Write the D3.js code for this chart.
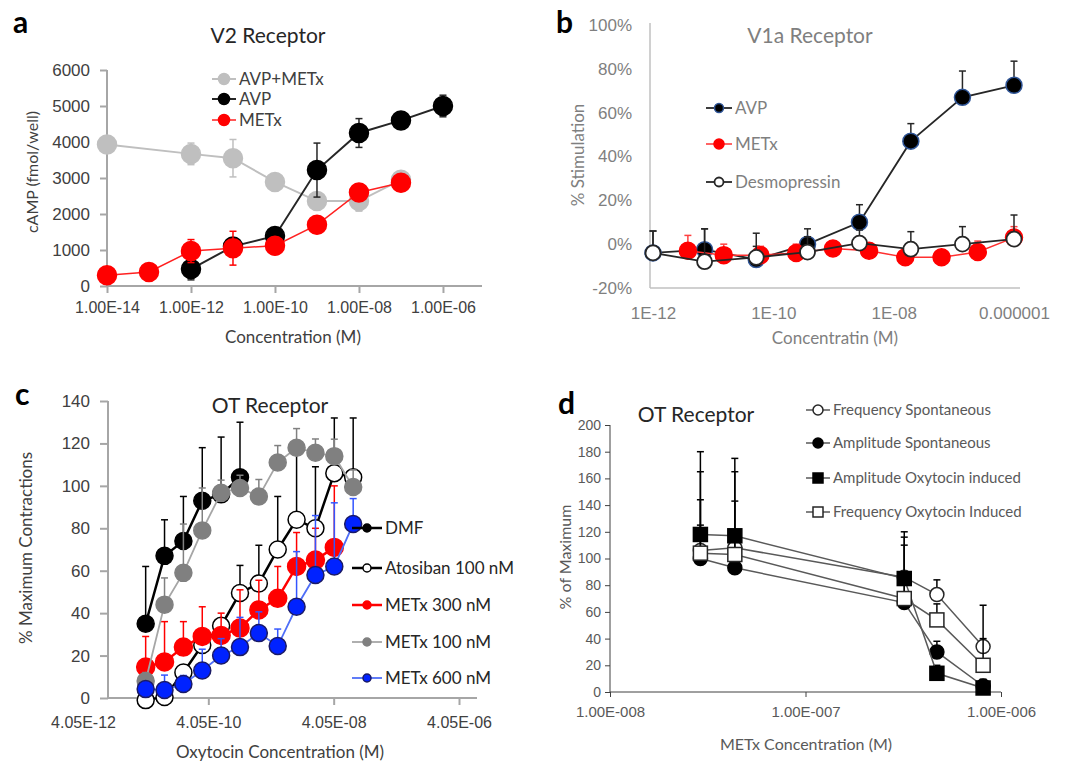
<!DOCTYPE html>
<html>
<head>
<meta charset="utf-8">
<script src="https://cdn.jsdelivr.net/npm/d3@7"></script>
<style>
body { margin: 0; background: #fff; }
svg { font-family: Lato, 'Open Sans', sans-serif; }
</style>
</head>
<body>
<svg id="chart" width="1069" height="761"></svg>
<script>
// ---- panel a : V2 receptor (cAMP)
var aAvpMetxConc = [1e-14, 1e-12, 1e-11, 1e-10, 1e-9, 1e-8, 1e-7];
var aAvpMetx     = [3930, 3670, 3550, 2890, 2360, 2360, 2950];
var aAvpMetxErr  = [0, 300, 520, 0, 0, 280, 150];
var aAvpConc = [1e-12, 1e-11, 1e-10, 1e-9, 1e-8, 1e-7, 1e-6];
var aAvp     = [470, 1100, 1390, 3220, 4250, 4600, 5000];
var aAvpErr  = [300, 0, 0, 750, 400, 0, 300];
var aMetxConc = [1e-14, 1e-13, 1e-12, 1e-11, 1e-10, 1e-9, 1e-8, 1e-7];
var aMetx     = [300, 390, 970, 1050, 1120, 1700, 2600, 2870];
var aMetxErr  = [0, 0, 320, 470, 0, 0, 200, 0];
var aYTicks = [0, 1000, 2000, 3000, 4000, 5000, 6000];
var aXTicks = [1e-14, 1e-12, 1e-10, 1e-8, 1e-6];
var aXLabels = ["1.00E-14", "1.00E-12", "1.00E-10", "1.00E-08", "1.00E-06"];

// ---- panel b : V1a receptor (% stimulation)
var bAvpConc = [1e-12, 7.2e-12, 5.2e-11, 3.7e-10, 2.7e-9, 1.93e-8, 1.39e-7, 1e-6];
var bAvp     = [-4, -2.5, -7, 0, 10, 47, 67, 72.5];
var bAvpErr  = [10, 9.5, 6, 7, 8, 8, 12, 11];
var bMetxConc = [3.8e-12, 1.5e-11, 6.1e-11, 2.4e-10, 9.8e-10, 3.9e-9, 1.56e-8, 6.25e-8, 2.5e-7, 1e-6];
var bMetx     = [-3, -5, -5, -4, -2, -3, -6, -6, -3.6, 3];
var bMetxErr  = [7, 5, 4, 4, 3, 3, 2, 3, 5, 5];
var bDesConc = [1e-12, 7.2e-12, 5.2e-11, 3.7e-10, 2.7e-9, 1.93e-8, 1.39e-7, 1e-6];
var bDes     = [-4, -8, -6, -3.6, 0.5, -2.3, 0, 2.3];
var bDesErr  = [10, 15, 11, 7, 6, 8, 8, 11];
var bYTicks = [-20, 0, 20, 40, 60, 80, 100];
var bXTicks = [1e-12, 1e-10, 1e-8, 1e-6];
var bXLabels = ["1E-12", "1E-10", "1E-08", "0.000001"];

// ---- panel c : OT receptor (% maximum contractions)
var cConc = [4.05e-11, 8.1e-11, 1.62e-10, 3.24e-10, 6.48e-10, 1.296e-9, 2.592e-9, 5.184e-9, 1.0368e-8, 2.0736e-8, 4.1472e-8, 8.2944e-8];
var cDmf       = [35, 67, 74, 93, 96, 104];
var cDmfErr    = [27, 17, 21, 25, 27, 26];
var cAto       = [-1, 0.5, 12, 25, 34, 49.5, 54, 70, 84, 80, 106, 104];
var cAtoErr    = [0, 0, 0, 0, 0, 13, 18, 25, 34, 29, 26, 28];
var cMetx300    = [14.6, 17, 24, 29, 29.5, 33, 41.5, 47, 62, 65, 71];
var cMetx300Err = [14.4, 19, 12, 14, 10.5, 18, 14, 15, 16, 15, 29];
var cMetx100    = [8, 44, 59, 79, 96.7, 99, 95, 111, 118, 115.6, 114, 99.5];
var cMetx100Err = [4, 12.6, 23, 20, 6, 6, 8, 8, 9, 6.5, 8, 8];
var cMetx600    = [4.2, 3.8, 6.6, 13, 20, 24, 30.6, 24.5, 43, 58, 62, 82];
var cMetx600Err = [0, 7, 4, 10, 8, 14, 10, 8, 26, 28, 30, 12];
var cYTicks = [0, 20, 40, 60, 80, 100, 120, 140];
var cXTicks = [4.05e-12, 4.05e-10, 4.05e-8, 4.05e-6];
var cXLabels = ["4.05E-12", "4.05E-10", "4.05E-08", "4.05E-06"];

// ---- panel d : OT receptor (% of maximum vs METx)
var dConc = [2.9e-8, 4.35e-8, 3.2e-7, 4.7e-7, 8.1e-7];
var dFreqSpont    = [106, 108, 86, 73, 34];
var dFreqSpontErr = [59, 57, 30, 11, 31];
var dAmpSpont     = [100, 93, 67, 30, 4.5];
var dAmpSpontErr  = [25, 25, 20, 8, 5];
var dAmpOxy       = [118, 117, 85, 14, 3];
var dAmpOxyErr    = [62, 58, 35, 6, 4];
var dFreqOxy      = [104, 103, 70, 54, 20];
var dFreqOxyErr   = [40, 40, 40, 12, 20];
var dYTicks = [0, 20, 40, 60, 80, 100, 120, 140, 160, 180, 200];
var dXTicks = [1e-8, 1e-7, 1e-6];
var dXLabels = ["1.00E-008", "1.00E-007", "1.00E-006"];

var svg = d3.select("#chart");
svg.append("rect").attr("width", 1069).attr("height", 761).attr("fill", "#fff");

function txt(x, y, s, size, color, anchor, weight) {
	return svg.append("text")
		.attr("x", x).attr("y", y)
		.attr("font-size", size)
		.attr("fill", color)
		.attr("text-anchor", anchor || "start")
		.attr("font-weight", weight || "normal")
		.text(s);
}

function vtxt(x, y, s, size, color) {
	return svg.append("text")
		.attr("transform", "translate(" + x + "," + y + ") rotate(-90)")
		.attr("font-size", size)
		.attr("fill", color)
		.attr("text-anchor", "middle")
		.text(s);
}

function drawMarker(g, x, y, o, r) {
	if (o.shape == "square") {
		g.append("rect")
			.attr("x", x - r).attr("y", y - r)
			.attr("width", 2 * r).attr("height", 2 * r)
			.attr("fill", o.fill)
			.attr("stroke", o.stroke)
			.attr("stroke-width", o.sw || 1.5);
	} else {
		g.append("circle")
			.attr("cx", x).attr("cy", y).attr("r", r)
			.attr("fill", o.fill)
			.attr("stroke", o.stroke)
			.attr("stroke-width", o.sw || 1.5);
	}
}

function drawSeries(p, conc, vals, errs, o) {
	var g = svg.append("g");
	var pts = vals.map(function(v, i) { return {x: p.x(conc[i]), y: p.y(v), v: v, e: errs[i]}; });

	pts.forEach(function(d) {
		if (!d.e) return;
		var top = p.y(d.v + d.e);
		var bot = o.both ? p.y(d.v - d.e) : d.y;
		g.append("line")
			.attr("x1", d.x).attr("x2", d.x)
			.attr("y1", top).attr("y2", bot)
			.attr("stroke", o.err).attr("stroke-width", o.errW || 1.5);
		g.append("line")
			.attr("x1", d.x - 3.5).attr("x2", d.x + 3.5)
			.attr("y1", top).attr("y2", top)
			.attr("stroke", o.err).attr("stroke-width", 1.5);
		if (o.both)
			g.append("line")
				.attr("x1", d.x - 3.5).attr("x2", d.x + 3.5)
				.attr("y1", bot).attr("y2", bot)
				.attr("stroke", o.err).attr("stroke-width", 1.5);
	});

	g.append("path")
		.datum(pts)
		.attr("d", d3.line().x(function(d) { return d.x; }).y(function(d) { return d.y; }))
		.attr("fill", "none")
		.attr("stroke", o.line)
		.attr("stroke-width", o.lw);

	pts.forEach(function(d) { drawMarker(g, d.x, d.y, o, o.r); });
}

function legendItem(x, y, label, o, half, r, size, color) {
	var g = svg.append("g");
	g.append("line")
		.attr("x1", x - half).attr("x2", x + half)
		.attr("y1", y).attr("y2", y)
		.attr("stroke", o.line).attr("stroke-width", o.lw);
	drawMarker(g, x, y, o, r);
	txt(x + half + 3, y + size * 0.35, label, size, color);
}

function styleAxis(g, color, width, textColor, size) {
	g.selectAll("path").remove();
	g.selectAll("line").attr("stroke", color).attr("stroke-width", width);
	g.selectAll("text").attr("fill", textColor).attr("font-size", size).attr("font-family", null);
}

function axisLine(x1, y1, x2, y2, color, width) {
	svg.append("line")
		.attr("x1", x1).attr("y1", y1).attr("x2", x2).attr("y2", y2)
		.attr("stroke", color).attr("stroke-width", width);
}

// ================= panel a
var ax = d3.scaleLog().domain([1e-14, 8.5e-6]).range([107, 482]);
var ay = d3.scaleLinear().domain([0, 6000]).range([286, 70]);
var pa = {x: ax, y: ay};

svg.append("g").attr("transform", "translate(107,0)")
	.call(d3.axisLeft(ay).tickValues(aYTicks).tickSize(7).tickPadding(10).tickFormat(d3.format("d")))
	.call(styleAxis, "#a6a6a6", 2, "#404040", 17);
svg.append("g").attr("transform", "translate(0,286)")
	.call(d3.axisBottom(ax).tickValues(aXTicks).tickSize(7).tickPadding(9)
		.tickFormat(function(d, i) { return aXLabels[i]; }))
	.call(styleAxis, "#a6a6a6", 2, "#404040", 16);
axisLine(107, 70, 107, 287, "#a6a6a6", 2);
axisLine(106, 286, 482, 286, "#a6a6a6", 2);

var aGray = {line: "#bfbfbf", lw: 2, fill: "#bfbfbf", stroke: "#bfbfbf", r: 9.5, err: "#bfbfbf", both: true};
var aBlack = {line: "#262626", lw: 2, fill: "#000", stroke: "#000", r: 9.5, err: "#262626", both: true};
var aRed = {line: "#ff2020", lw: 1.5, fill: "#ff0000", stroke: "#ff0000", r: 9.5, err: "#ff0000", both: true};
drawSeries(pa, aAvpMetxConc, aAvpMetx, aAvpMetxErr, aGray);
drawSeries(pa, aAvpConc, aAvp, aAvpErr, aBlack);
drawSeries(pa, aMetxConc, aMetx, aMetxErr, aRed);

legendItem(224, 79, "AVP+METx", aGray, 12, 5.5, 17, "#404040");
legendItem(224, 99, "AVP", aBlack, 12, 5.5, 17, "#404040");
legendItem(224, 120, "METx", aRed, 12, 5.5, 17, "#404040");

txt(13, 33, "a", 30, "#000", "start", "bold");
txt(268, 43, "V2 Receptor", 21, "#262626", "middle");
txt(293, 343, "Concentration (M)", 17, "#404040", "middle");
vtxt(38, 172, "cAMP (fmol/well)", 16, "#404040");

// ================= panel b
var bx = d3.scaleLog().domain([1e-12, 1e-6]).range([653, 1014]);
var by = d3.scaleLinear().domain([-20, 100]).range([288, 25]);
var pb = {x: bx, y: by};

svg.append("g").attr("transform", "translate(650,0)")
	.call(d3.axisLeft(by).tickValues(bYTicks).tickSize(0).tickPadding(18)
		.tickFormat(function(d) { return d + "%"; }))
	.call(styleAxis, "#bfbfbf", 1.5, "#7f7f7f", 17);
svg.append("g").attr("transform", "translate(0,288)")
	.call(d3.axisBottom(bx).tickValues(bXTicks).tickSize(0).tickPadding(19)
		.tickFormat(function(d, i) { return bXLabels[i]; }))
	.call(styleAxis, "#bfbfbf", 1.5, "#7f7f7f", 17);
axisLine(650, 23, 650, 288, "#c0c0c0", 1.5);
axisLine(650, 288, 1020, 288, "#c0c0c0", 1.5);

var bAvpS = {line: "#262626", lw: 1.8, fill: "#000", stroke: "#2f5597", sw: 1.5, r: 8, err: "#262626"};
var bMetxS = {line: "#ff3030", lw: 1.5, fill: "#ff0000", stroke: "#ff0000", r: 8.5, err: "#ff4040"};
var bDesS = {line: "#262626", lw: 1.8, fill: "#fff", stroke: "#262626", sw: 1.8, r: 7.5, err: "#262626"};
drawSeries(pb, bAvpConc, bAvp, bAvpErr, bAvpS);
drawSeries(pb, bMetxConc, bMetx, bMetxErr, bMetxS);
drawSeries(pb, bDesConc, bDes, bDesErr, bDesS);

legendItem(719, 108, "AVP", bAvpS, 13, 4.5, 17, "#7f7f7f");
legendItem(719, 144, "METx", bMetxS, 13, 5, 17, "#7f7f7f");
legendItem(719, 182, "Desmopressin", bDesS, 13, 4.5, 17, "#7f7f7f");

txt(556, 33, "b", 30, "#000", "start", "bold");
txt(810, 43, "V1a Receptor", 21, "#7f7f7f", "middle");
txt(835, 344, "Concentratin (M)", 17, "#7f7f7f", "middle");
vtxt(584, 155, "% Stimulation", 17, "#7f7f7f");

// ================= panel c
var cx = d3.scaleLog().domain([4.05e-12, 4.05e-6]).range([83, 459]);
var cy = d3.scaleLinear().domain([0, 140]).range([698, 401]);
var pc = {x: cx, y: cy};

svg.append("g").attr("transform", "translate(108,0)")
	.call(d3.axisLeft(cy).tickValues(cYTicks).tickSize(8).tickPadding(10))
	.call(styleAxis, "#a6a6a6", 2, "#404040", 17);
var cxa = svg.append("g").attr("transform", "translate(0,698)")
	.call(d3.axisBottom(cx).tickValues(cXTicks).tickSize(7).tickPadding(12)
		.tickFormat(function(d, i) { return cXLabels[i]; }))
	.call(styleAxis, "#a6a6a6", 2, "#404040", 16);
cxa.select(".tick line").remove();
axisLine(108, 401, 108, 699, "#a6a6a6", 2);
axisLine(107, 698, 477, 698, "#a6a6a6", 2);

var cDmfS = {line: "#000", lw: 2.5, fill: "#000", stroke: "#000", r: 8.5, err: "#000"};
var cAtoS = {line: "#000", lw: 2.5, fill: "#fff", stroke: "#000", sw: 1.5, r: 8.5, err: "#000"};
var cM300S = {line: "#ff0000", lw: 2.5, fill: "#ff0000", stroke: "#ff0000", r: 9, err: "#ff0000"};
var cM100S = {line: "#a6a6a6", lw: 1.8, fill: "#808080", stroke: "#808080", r: 8.5, err: "#808080"};
var cM600S = {line: "#4f6ef7", lw: 1.8, fill: "#0022ff", stroke: "#1a1a66", sw: 1.5, r: 8.5, err: "#3355ff"};
drawSeries(pc, cConc, cDmf, cDmfErr, cDmfS);
drawSeries(pc, cConc, cAto, cAtoErr, cAtoS);
drawSeries(pc, cConc, cMetx300, cMetx300Err, cM300S);
drawSeries(pc, cConc, cMetx100, cMetx100Err, cM100S);
drawSeries(pc, cConc, cMetx600, cMetx600Err, cM600S);

legendItem(367, 528, "DMF", cDmfS, 15, 4, 17, "#262626");
legendItem(367, 568, "Atosiban 100 nM", cAtoS, 15, 4, 17, "#262626");
legendItem(367, 605, "METx 300 nM", cM300S, 15, 4, 17, "#262626");
legendItem(367, 642, "METx 100 nM", cM100S, 15, 4, 17, "#262626");
legendItem(367, 678, "METx 600 nM", cM600S, 15, 4, 17, "#262626");

txt(15, 405, "c", 30, "#000", "start", "bold");
txt(270, 413, "OT Receptor", 21, "#262626", "middle");
txt(280, 758, "Oxytocin Concentration (M)", 17, "#404040", "middle");
vtxt(32, 548, "% Maximum Contractions", 17, "#404040");

// ================= panel d
var dx = d3.scaleLog().domain([1e-8, 1e-6]).range([610, 1001]);
var dy = d3.scaleLinear().domain([0, 200]).range([692, 425]);
var pd = {x: dx, y: dy};

svg.append("g").attr("transform", "translate(610,0)")
	.call(d3.axisLeft(dy).tickValues(dYTicks).tickSize(5).tickPadding(4))
	.call(styleAxis, "#404040", 1, "#595959", 14);
svg.append("g").attr("transform", "translate(0,692)")
	.call(d3.axisBottom(dx).tickValues(dXTicks).tickSize(5).tickPadding(9)
		.tickFormat(function(d, i) { return dXLabels[i]; }))
	.call(styleAxis, "#404040", 1, "#595959", 15);
axisLine(610, 425, 610, 692.5, "#404040", 1);
axisLine(610, 692, 1001, 692, "#404040", 1);

var dFreqSpontS = {line: "#595959", lw: 1.5, fill: "#fff", stroke: "#262626", sw: 1.5, r: 7, err: "#000"};
var dAmpSpontS = {line: "#595959", lw: 1.5, fill: "#000", stroke: "#000", r: 7, err: "#000"};
var dAmpOxyS = {line: "#595959", lw: 1.5, fill: "#000", stroke: "#000", r: 7, err: "#000", shape: "square"};
var dFreqOxyS = {line: "#595959", lw: 1.5, fill: "#fff", stroke: "#262626", sw: 1.5, r: 7, err: "#000", shape: "square"};
drawSeries(pd, dConc, dFreqSpont, dFreqSpontErr, dFreqSpontS);
drawSeries(pd, dConc, dAmpSpont, dAmpSpontErr, dAmpSpontS);
drawSeries(pd, dConc, dAmpOxy, dAmpOxyErr, dAmpOxyS);
drawSeries(pd, dConc, dFreqOxy, dFreqOxyErr, dFreqOxyS);

legendItem(818, 410, "Frequency Spontaneous", dFreqSpontS, 12, 5, 15, "#595959");
legendItem(818, 443, "Amplitude Spontaneous", dAmpSpontS, 12, 5, 15, "#595959");
legendItem(818, 478, "Amplitude Oxytocin induced", dAmpOxyS, 12, 5, 15, "#595959");
legendItem(818, 512, "Frequency Oxytocin Induced", dFreqOxyS, 12, 5, 15, "#595959");

txt(558, 414, "d", 30, "#000", "start", "bold");
txt(696, 422, "OT Receptor", 21, "#262626", "middle");
txt(806, 750, "METx Concentration (M)", 16, "#595959", "middle");
vtxt(571, 557, "% of Maximum", 16, "#595959");
</script>
</body>
</html>
